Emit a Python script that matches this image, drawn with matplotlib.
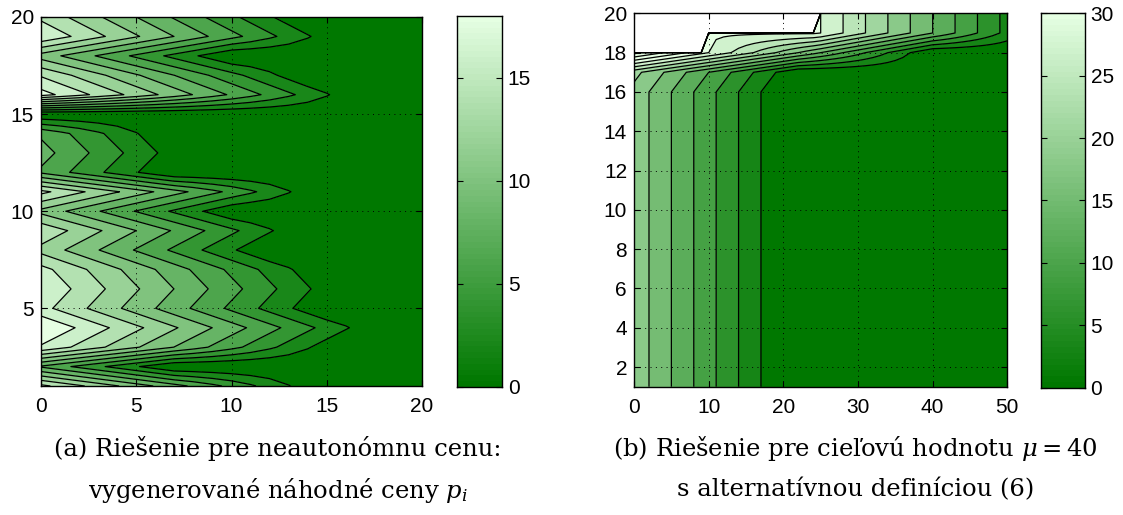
import numpy as np
import matplotlib
matplotlib.use("Agg")
import matplotlib.pyplot as plt
from matplotlib.colors import LinearSegmentedColormap

# ---------------- data ----------------
# (a) rows y = 1..20, state grid x = 0..20
left_x = np.arange(0, 21)
left_y = np.arange(1, 21)
# x where the solution of each row drops to zero
left_zero = [14.9, 6.97, 15.97, 17.99, 15.02, 15.98, 15.0, 12.05, 14.0, 10.3,
             14.92, 6.9, 7.93, 6.9, 0.0, 16.95, 14.2, 10.04, 15.98, 14.0]
left_slope = 1.111
left_levels = [2, 4, 6, 8, 10, 12, 14, 16, 18]
left_cmax = 18
left_xticks = [0, 5, 10, 15, 20]
left_yticks = [5, 10, 15, 20]
left_cticks = [0, 5, 10, 15]

# (b) rows y = 1..20, state grid x = 0..50
right_x = np.arange(0, 51)
right_y = np.arange(1, 21)
right_zero = [20, 20, 20, 20, 20, 20, 20, 20, 20, 20,
              20, 20, 20, 20, 20, 20, 22, 40, 55, 55]
right_cap = [99, 99, 99, 99, 99, 99, 99, 99, 99, 99,
             99, 99, 99, 99, 99, 99, 99, 99, 30.5, 99]
right_blank_upto = [-1, -1, -1, -1, -1, -1, -1, -1, -1, -1,
                    -1, -1, -1, -1, -1, -1, -1, -1, 9, 24]   # undefined (white)
right_slope = 1.0
right_levels = [3, 6, 9, 12, 15, 18, 21, 24, 27, 30, 33, 36, 39, 42, 45]
right_cmax = 30
right_xticks = [0, 10, 20, 30, 40, 50]
right_yticks = [2, 4, 6, 8, 10, 12, 14, 16, 18, 20]
right_cticks = [0, 5, 10, 15, 20, 25, 30]

caption_a = ["(a) Riešenie pre neautonómnu cenu:", "vygenerované náhodné ceny $p_i$"]
caption_b = ["(b) Riešenie pre cieľovú hodnotu $\\mu = 40$", "s alternatívnou definíciou (6)"]

# ---------------- style ----------------
cmap = LinearSegmentedColormap.from_list(
    "grn", [(0.0, 0.47, 0.0), (0.90, 1.0, 0.89)], N=64)

plt.rcParams['font.family'] = ['Liberation Sans', 'DejaVu Sans']
plt.rcParams['mathtext.fontset'] = 'dejavuserif'

fig = plt.figure(figsize=(11.23, 5.15), dpi=100)


def build(xs, ys, zero, slope, cap=None, blank=None):
    Z = np.zeros((len(ys), len(xs)))
    for i in range(len(ys)):
        row = np.maximum(0.0, slope * (zero[i] - xs))
        if cap is not None:
            row = np.minimum(row, cap[i])
        if blank is not None:
            row = np.where(xs <= blank[i], 1e4, row)
        Z[i] = row
    return Z


def panel(rect, crect, xs, ys, Z, levels, cmax, xticks, yticks, cticks, top):
    ax = fig.add_axes(rect)
    fill_levels = [-1.0] + list(levels) + [top]
    lows = [0.0] + list(levels)
    cols = [cmap(min(l, cmax) / cmax) for l in lows]
    ax.contourf(xs, ys, Z, levels=fill_levels, colors=cols, zorder=1,
                antialiased=False)
    ax.contour(xs, ys, Z, levels=levels, colors='k', linewidths=0.9, zorder=1.5)
    ax.set_xlim(xs[0], xs[-1])
    ax.set_ylim(ys[0], ys[-1])
    ax.set_xticks(xticks)
    ax.set_yticks(yticks)
    ax.set_axisbelow(False)
    ax.grid(True, color='k', linestyle=(0, (1, 4.5)), linewidth=0.7)
    ax.tick_params(direction='in', length=4, width=0.8, top=True, right=True,
                   labelsize=15, colors='k')
    ax.tick_params(axis='x', pad=8)
    ax.tick_params(axis='y', pad=5)
    for s in ax.spines.values():
        s.set_linewidth(1.0)

    cax = fig.add_axes(crect)
    grad = np.linspace(0, cmax, 256).reshape(-1, 1)
    cax.imshow(grad, aspect='auto', origin='lower', cmap=cmap,
               extent=[0, 1, 0, cmax], vmin=0, vmax=cmax, interpolation='nearest')
    cax.set_xlim(0, 1)
    cax.set_ylim(0, cmax)
    cax.set_xticks([])
    cax.set_yticks(cticks)
    cax.yaxis.set_ticks_position('both')
    cax.tick_params(direction='in', length=4, width=0.8, labelleft=False,
                    labelright=True, labelsize=15, pad=4)
    for s in cax.spines.values():
        s.set_linewidth(1.0)
    return ax


ZL = build(left_x, left_y, left_zero, left_slope)
ZR = build(right_x, right_y, right_zero, right_slope, right_cap, right_blank_upto)

panel([0.0365, 0.2505, 0.3393, 0.7165], [0.4067, 0.2491, 0.0406, 0.7198],
      left_x, left_y, ZL, left_levels, left_cmax,
      left_xticks, left_yticks, left_cticks, top=24)
panel([0.5646, 0.2491, 0.3324, 0.7250], [0.9267, 0.2472, 0.0395, 0.7270],
      right_x, right_y, ZR, right_levels, right_cmax,
      right_xticks, right_yticks, right_cticks, top=48)

cap_kw = dict(ha='center', va='center', fontsize=17.5,
              family=['DejaVu Serif'])
fig.text(0.2475, 0.130, caption_a[0], **cap_kw)
fig.text(0.2475, 0.0485, caption_a[1], **cap_kw)
fig.text(0.762, 0.130, caption_b[0], **cap_kw)
fig.text(0.762, 0.0485, caption_b[1], **cap_kw)

fig.savefig("out.png", dpi=100)
